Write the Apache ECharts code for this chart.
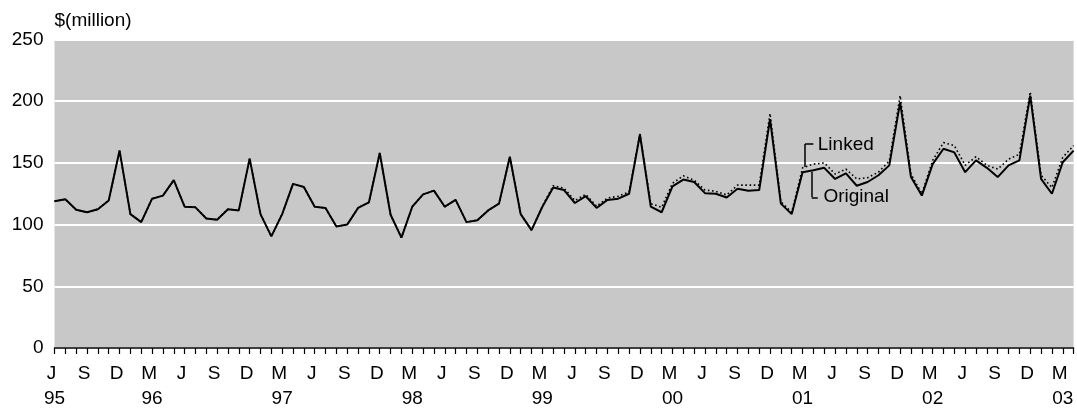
<!DOCTYPE html>
<html>
<head>
<meta charset="utf-8">
<script src="https://cdn.jsdelivr.net/npm/echarts@6/dist/echarts.min.js"></script>
<style>
html,body{margin:0;padding:0;background:#fff;}
#chart{width:1077px;height:414px;}
</style>
</head>
<body>
<div id="chart"></div>
<script>
// Monthly series, June 1995 .. April 2003
const startYear = 1995, startMonth = 6; // June
const monthLetters = ['J','F','M','A','M','J','J','A','S','O','N','D'];
const yTicks = [0, 50, 100, 150, 200, 250];

const original = [
  119,120.5,112,110,112.5,119.5,160,108.5,102,121,123.5,136,
  114.5,114,105,104,112.5,111.5,153.5,108.5,90.5,108.5,133,130.5,
  114.5,113.5,98.5,100,113.5,118,158,108,89.5,114.5,124.5,127.5,
  114.5,120,102,103.5,111.5,117,155,108.5,95.5,114.5,130,128,
  117.5,123,113.5,120,121,125,173,114.5,110,131,136.5,134.5,
  125.5,125,122,129,127.5,128,185.5,117,108.5,142.5,144,146,
  137,141.5,131.5,134.5,140,148,199,138.5,123.5,149,161.5,158.5,
  142.5,152,146,138.5,148,152,204.5,137,125,150.5,160
];
const linked = [
  119,120.5,112,110,112.5,119.5,160,108.5,102,121,123.5,136,
  114.5,114,105,104,112.5,111.5,153.5,108.5,90.5,108.5,133,130.5,
  114.5,113.5,98.5,100,113.5,118,158,108,89.5,114.5,124.5,127.5,
  114.5,120,102,103.5,111.5,117,155,108.5,95.5,115,131.5,129.5,
  119.5,124.5,115,121.5,123,126.5,173.5,117,114,133.5,139.5,136,
  128,127,124,132,132,132,190,118.5,110,146,149,150,
  141,145,137,138,142.5,151.5,204.5,141,125,152,166.5,164,
  148,155,148,145,153,157,207.5,140,130,154.5,164
];

const n = original.length;
function monthOf(i){ return (startMonth - 1 + i) % 12; }
function yearOf(i){ return startYear + Math.floor((startMonth - 1 + i) / 12); }

const chart = echarts.init(document.getElementById('chart'));
const font = 'Liberation Sans, Arial, sans-serif';

chart.setOption({
  animation: false,
  grid: {
    left: 54.5, right: 3.4, top: 39.5, bottom: 66,
    show: true, backgroundColor: '#c8c8c8', borderWidth: 0
  },
  xAxis: {
    type: 'value', min: 0, max: n - 1, interval: 1,
    axisLine: { show: true, lineStyle: { color: '#000', width: 1.5 } },
    axisTick: { show: true, length: 6, lineStyle: { color: '#000', width: 1.2 } },
    splitLine: { show: false },
    axisLabel: {
      show: true, hideOverlap: false, showMinLabel: true, showMaxLabel: true,
      margin: 13, color: '#000', fontFamily: font, fontSize: 19,
      formatter: function (v) {
        const i = Math.round(v);
        if (i % 3 !== 0) return '';
        const m = monthOf(i);
        const yr = (m === 2 || i === 0) ? String(yearOf(i) % 100).padStart(2, '0') : '';
        return '{m|' + monthLetters[m] + '}\n{y|' + (yr || ' ') + '}';
      },
      rich: {
        m: { fontFamily: font, fontSize: 19, color: '#000', lineHeight: 25, padding: [0, 6, 0, 0] },
        y: { fontFamily: font, fontSize: 19, color: '#000', lineHeight: 25 }
      }
    }
  },
  yAxis: {
    type: 'value', min: yTicks[0], max: yTicks[yTicks.length - 1], interval: 50,
    name: '$(million)', nameLocation: 'end', nameGap: 9,
    nameTextStyle: { align: 'left', color: '#000', fontFamily: font, fontSize: 19, padding: [0, 0, 0, 0] },
    axisLine: { show: false }, axisTick: { show: false },
    axisLabel: { margin: 11, color: '#000', fontFamily: font, fontSize: 19 },
    splitLine: { show: true, lineStyle: { color: '#ffffff', width: 2 } }
  },
  series: [
    {
      name: 'Original', type: 'line', symbol: 'none', z: 3,
      data: original.map((v, i) => [i, v]),
      lineStyle: { color: '#000', width: 2 },
      markLine: {
        silent: true, symbol: 'none', label: { show: false },
        lineStyle: { color: '#000', width: 1.5, type: 'solid' },
        data: [
          [{ coord: [69.23, 146.7] }, { coord: [69.23, 165.3] }],
          [{ coord: [69.23, 165.3] }, { coord: [70.0, 165.3] }],
          [{ coord: [69.85, 142.9] }, { coord: [69.85, 122.1] }],
          [{ coord: [69.85, 122.1] }, { coord: [70.4, 122.1] }]
        ]
      },
      markPoint: {
        silent: true, symbol: 'rect', symbolSize: 0.1,
        itemStyle: { color: 'rgba(0,0,0,0)' },
        label: { show: true, position: 'right', distance: 0, color: '#000', fontFamily: font, fontSize: 19, formatter: '{b}' },
        data: [
          { name: 'Linked', coord: [70.4, 164.5] },
          { name: 'Original', coord: [70.92, 122.6] }
        ]
      }
    },
    {
      name: 'Linked', type: 'line', symbol: 'none', z: 4,
      data: linked.map((v, i) => [i, v]),
      lineStyle: { color: '#000', width: 1.6, type: [1.6, 2.6] }
    }
  ]
});
</script>
</body>
</html>
